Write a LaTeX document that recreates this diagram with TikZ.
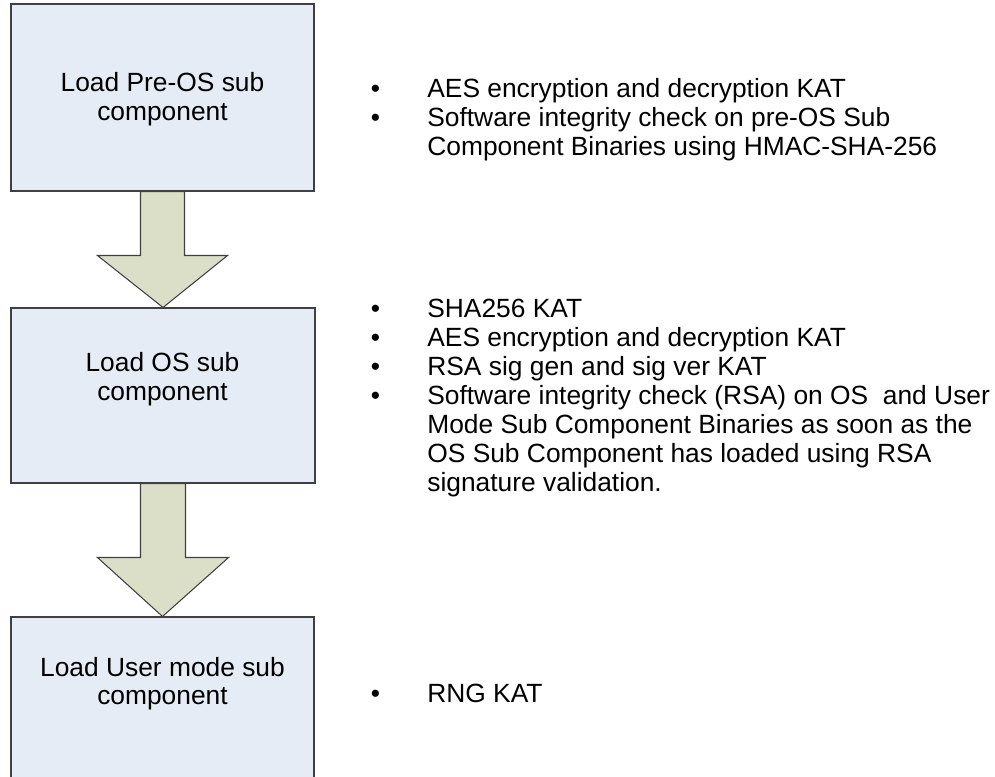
\documentclass[tikz,border=0pt]{standalone}
\usepackage{fontspec}
\setmainfont{Liberation Sans}
\definecolor{stagefill}{HTML}{E6ECF6}
\definecolor{flowfill}{HTML}{DCDFC8}
\definecolor{edgegray}{HTML}{404040}
\tikzset{
  stage/.style={draw=edgegray, fill=stagefill, line width=0.6pt, inner sep=0pt},
  stagetext/.style={anchor=base, align=center, font=\fontsize{15}{16.5}\selectfont},
  checks/.style={anchor=base west, inner sep=0pt, align=left, font=\fontsize{15}{16.5}\selectfont},
  flow/.style={draw=edgegray, fill=flowfill, line width=0.6pt, line join=miter}
}
\newcommand{\chk}{\makebox[1.13cm][l]{\textbullet}}
\newcommand{\wrapin}{\hspace*{1.13cm}}
\begin{document}
\begin{tikzpicture}
\useasboundingbox (0,0) rectangle (19.9,15.54);
\clip (0,0) rectangle (19.9,15.54);

\node[stage, minimum width=6.06cm, minimum height=3.74cm] (preos) at (3.25,13.59) {};
\node[stage, minimum width=6.08cm, minimum height=3.5cm]  (os)    at (3.26,7.63)  {};
\node[stage, minimum width=6.06cm, minimum height=3.7cm]  (user)  at (3.25,1.35)  {};

% base of a multi-line node is its last line
\node[stagetext] (preostext) at (3.25,13.12) {Load Pre-OS sub\\component};
\node[stagetext] (ostext)    at (3.25,7.52)  {Load OS sub\\component};
\node[stagetext] (usertext)  at (3.25,1.44)  {Load User mode sub\\component};

\path % Pre-OS to OS
 (preos.south) +(-0.44,0) coordinate (fatopleft)
    +(0.44,0) coordinate (fatopright)
    +(-0.44,-1.28) coordinate (fashoulderleft)
    +(0.44,-1.28) coordinate (fashoulderright)
    +(-1.3,-1.28) coordinate (faheadleft)
    +(1.3,-1.28) coordinate (faheadright)
    ;
\draw[flow] (fatopleft) -- (fashoulderleft) -- (faheadleft) -- (os.north) -- (faheadright) -- (fashoulderright) -- (fatopright) -- cycle;

\path % OS to User mode
 (os.south) +(-0.45,0) coordinate (fbtopleft)
    +(0.45,0) coordinate (fbtopright)
    +(-0.45,-1.48) coordinate (fbshoulderleft)
    +(0.45,-1.48) coordinate (fbshoulderright)
    +(-1.31,-1.48) coordinate (fbheadleft)
    +(1.31,-1.48) coordinate (fbheadright)
    ;
\draw[flow] (fbtopleft) -- (fbshoulderleft) -- (fbheadleft) -- (user.north) -- (fbheadright) -- (fbshoulderright) -- (fbtopright) -- cycle;

\node[checks] (preoschecks) at (7.41,12.42) {\chk AES encryption and decryption KAT\\
\chk Software integrity check on pre-OS Sub\\
\wrapin Component Binaries using HMAC-SHA-256};

\node[checks] (oschecks) at (7.41,5.71) {\chk SHA256 KAT\\
\chk AES encryption and decryption KAT\\
\chk RSA sig gen and sig ver KAT\\
\chk Software integrity check (RSA) on OS\ \ and User\\
\wrapin Mode Sub Component Binaries as soon as the\\
\wrapin OS Sub Component has loaded using RSA\\
\wrapin signature validation.};

\node[checks] (userchecks) at (7.41,1.48) {\chk RNG KAT};

\end{tikzpicture}
\end{document}
